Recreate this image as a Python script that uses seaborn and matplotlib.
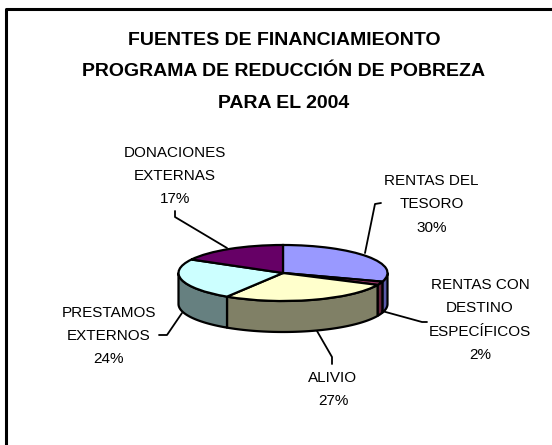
import numpy as np
import matplotlib.pyplot as plt
from matplotlib.patches import Polygon
import seaborn as sns

# data
names = ["RENTAS DEL\nTESORO", "RENTAS CON\nDESTINO\nESPECÍFICOS", "ALIVIO",
         "PRESTAMOS\nEXTERNOS", "DONACIONES\nEXTERNAS"]
values = [30, 2, 27, 24, 17]
top_colors = ["#9999FF", "#993366", "#FFFFCC", "#CCFFFF", "#660066"]
side_colors = ["#5A5AA8", "#66223F", "#808066", "#668080", "#440044"]
title = "FUENTES DE FINANCIAMIEONTO\nPROGRAMA DE REDUCCIÓN DE POBREZA\nPARA EL 2004"

# label centres and leader lines, in picture pixels
label_pos = [(431.5, 204.5), (480, 320), (333, 389.5), (109, 336), (175, 176)]
leaders = [[(365, 253), (375, 204), (381, 203)],
           [(382, 311), (422, 322), (427, 322)],
           [(317, 331), (332, 357), (332, 364)],
           [(182, 313), (167, 335), (159, 335)],
           [(227, 248), (175, 217), (175, 211)]]

sns.set_theme(style="white")
plt.rcParams['font.family'] = ['Liberation Sans', 'DejaVu Sans']

W, H = 552, 445
cx, cy, rx, ry, depth = 283, 273, 104.5, 28, 31

fig = plt.figure(figsize=(W / 100, H / 100), dpi=100)
ax = fig.add_axes([0, 0, 1, 1])

# side walls first, only the front half of the pie can be seen
edges = np.cumsum([0] + values) * 3.6
dy = depth / ry
for i, col in enumerate(side_colors):
    a0, a1 = max(edges[i], 90), min(edges[i + 1], 270)
    if a1 <= a0:
        continue
    t = np.radians(np.linspace(a0, a1, 60))
    xs, ys = np.sin(t), np.cos(t)
    pts = np.r_[np.c_[xs, ys], np.c_[xs[::-1], ys[::-1] - dy]]
    ax.add_patch(Polygon(pts, closed=True, fc=col, ec="black", lw=1.6, joinstyle="round"))

# top of the pie, squashed by the axis limits below
ax.pie(values, colors=top_colors, startangle=90, counterclock=False, radius=1,
       wedgeprops={"edgecolor": "black", "linewidth": 1.6})
ax.set_aspect("auto")
ax.set_xlim(-cx / rx, (W - cx) / rx)
ax.set_ylim(-(H - cy) / ry, cy / ry)
ax.axis("off")

# overlay in pixels for text, leaders and the chart frame
ov = fig.add_axes([0, 0, 1, 1], facecolor="none")
ov.set_xlim(0, W)
ov.set_ylim(H, 0)
ov.axis("off")

ov.plot([6, 6, W + 5], [H + 5, 8.5, 8.5], color="black", lw=2.2, clip_on=False)
ov.text(284, 72, title, ha="center", va="center", fontsize=14, fontweight="bold",
        color="black", linespacing=2.13)

for name, v, (x, y) in zip(names, values, label_pos):
    ov.text(x, y, f"{name}\n{v}%", ha="center", va="center", fontsize=11,
            color="black", linespacing=1.84)
for line in leaders:
    xs, ys = zip(*line)
    ov.plot(xs, ys, color="black", lw=1.3)

fig.savefig("out.png", dpi=100, facecolor="white")
